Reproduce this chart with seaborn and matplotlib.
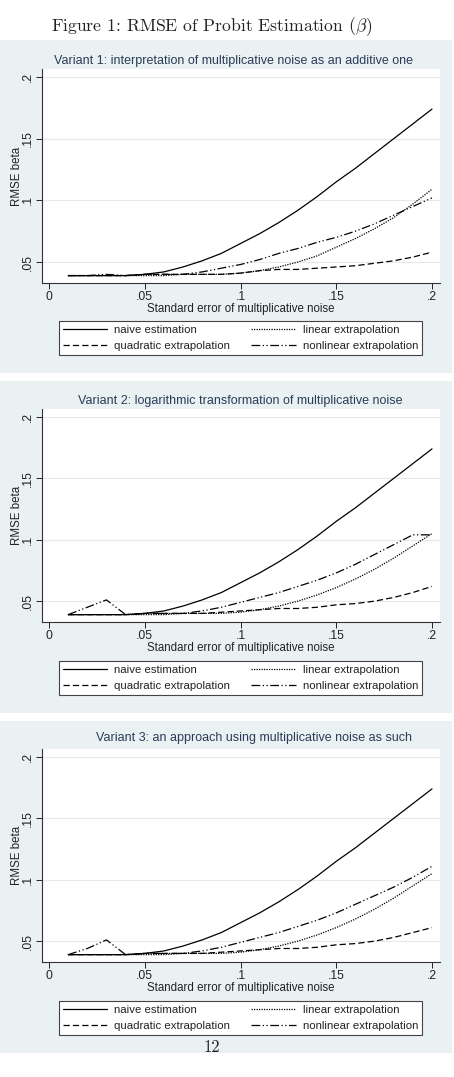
import matplotlib
matplotlib.use("Agg")
import matplotlib.pyplot as plt
import seaborn as sns
from matplotlib.patches import Rectangle

# Data
SE = [0.01, 0.02, 0.03, 0.04, 0.05, 0.06, 0.07, 0.08, 0.09, 0.10,
      0.11, 0.12, 0.13, 0.14, 0.15, 0.16, 0.17, 0.18, 0.19, 0.20]

naive = [0.039, 0.039, 0.039, 0.039, 0.040, 0.042, 0.046, 0.051, 0.057, 0.065,
         0.073, 0.082, 0.092, 0.103, 0.115, 0.126, 0.138, 0.150, 0.162, 0.174]

# Variant 1
v1_linear = [0.039, 0.039, 0.039, 0.039, 0.039, 0.039, 0.040, 0.040, 0.040, 0.041,
             0.043, 0.046, 0.050, 0.055, 0.062, 0.069, 0.077, 0.086, 0.097, 0.109]
v1_quadratic = [0.039, 0.039, 0.039, 0.039, 0.040, 0.040, 0.040, 0.040, 0.040, 0.041,
                0.043, 0.044, 0.044, 0.045, 0.046, 0.047, 0.049, 0.051, 0.054, 0.058]
v1_nonlinear = [0.039, 0.039, 0.040, 0.039, 0.040, 0.040, 0.040, 0.042, 0.045, 0.048,
                0.052, 0.057, 0.061, 0.066, 0.070, 0.075, 0.081, 0.088, 0.095, 0.102]

# Variant 2
v2_linear = [0.039, 0.039, 0.039, 0.039, 0.039, 0.039, 0.040, 0.040, 0.040, 0.041,
             0.043, 0.046, 0.050, 0.055, 0.061, 0.068, 0.076, 0.085, 0.095, 0.105]
v2_quadratic = [0.039, 0.039, 0.039, 0.039, 0.040, 0.040, 0.040, 0.040, 0.041, 0.042,
                0.043, 0.044, 0.044, 0.045, 0.047, 0.048, 0.050, 0.053, 0.057, 0.062]
v2_nonlinear = [0.039, 0.045, 0.051, 0.039, 0.040, 0.040, 0.040, 0.042, 0.045, 0.049,
                0.053, 0.057, 0.062, 0.067, 0.073, 0.080, 0.088, 0.096, 0.104, 0.104]

# Variant 3
v3_linear = [0.039, 0.039, 0.039, 0.039, 0.039, 0.039, 0.040, 0.040, 0.040, 0.041,
             0.043, 0.046, 0.050, 0.055, 0.061, 0.068, 0.076, 0.085, 0.095, 0.105]
v3_quadratic = [0.039, 0.039, 0.039, 0.039, 0.040, 0.040, 0.040, 0.040, 0.041, 0.042,
                0.043, 0.044, 0.044, 0.045, 0.047, 0.048, 0.050, 0.053, 0.057, 0.061]
v3_nonlinear = [0.039, 0.044, 0.051, 0.039, 0.040, 0.040, 0.040, 0.042, 0.045, 0.049,
                0.053, 0.057, 0.062, 0.067, 0.073, 0.080, 0.087, 0.094, 0.102, 0.111]

TITLES = [
    "Variant 1: interpretation of multiplicative noise as an additive one",
    "Variant 2: logarithmic transformation of multiplicative noise",
    "Variant 3: an approach using multiplicative noise as such",
]
X_TICKS = [0, 0.05, 0.1, 0.15, 0.2]
X_TICKLABELS = ["0", ".05", ".1", ".15", ".2"]
Y_TICKS = [0.05, 0.1, 0.15, 0.2]
Y_TICKLABELS = [".05", ".1", ".15", ".2"]

SERIES = [
    ("naive estimation", "-"),
    ("linear extrapolation", (0, (1, 1))),
    ("quadratic extrapolation", (0, (5, 2.5))),
    ("nonlinear extrapolation", (0, (7, 2, 1, 2, 1, 2))),
]
PANELS = [
    [naive, v1_linear, v1_quadratic, v1_nonlinear],
    [naive, v2_linear, v2_quadratic, v2_nonlinear],
    [naive, v3_linear, v3_quadratic, v3_nonlinear],
]

sns.set_theme(style="white")
plt.rcParams["font.family"] = ["Liberation Sans", "DejaVu Sans"]
plt.rcParams["mathtext.fontset"] = "cm"

W, H = 454, 1077
fig = plt.figure(figsize=(W / 100, H / 100), dpi=100)
fig.patch.set_facecolor("white")


def fx(px):
    return px / W


def fy(px):
    return 1 - px / H


BG = "#eaf1f3"
TITLE_COLOR = "#2b3b58"
TXT = "#222222"
FS = 8.8
LEG_FS = 8.2

# pixel layout for each panel: background top/bottom, axes top/bottom, title y/x, legend top/bottom
layout = [
    dict(bg=(40, 373), ax=(69, 283), title=(61, 234), leg=(320, 356)),
    dict(bg=(381, 713), ax=(409, 622), title=(401, 240), leg=(659, 697)),
    dict(bg=(721, 1053), ax=(749, 962), title=(738, 254), leg=(999, 1037)),
]

fig.text(fx(212), fy(27), r"Figure 1: RMSE of Probit Estimation ($\beta$)",
         family="cmr10", fontsize=12.7, ha="center", va="center", color=TXT)

for i, lay in enumerate(layout):
    b0, b1 = lay["bg"]
    fig.patches.append(Rectangle((0, fy(b1)), fx(452), (b1 - b0) / H,
                                 transform=fig.transFigure, facecolor=BG,
                                 edgecolor="none", zorder=-5))
    a0, a1 = lay["ax"]
    ax = fig.add_axes([fx(42), fy(a1), fx(440) - fx(42), (a1 - a0) / H])
    ax.set_facecolor("white")

    for (name, ls), vals in zip(SERIES, PANELS[i]):
        sns.lineplot(x=SE, y=vals, ax=ax, color="black", lw=0.9,
                     linestyle=ls, label=name, legend=False)

    ax.set_xlim(-0.00366, 0.20418)
    ax.set_ylim(0.033, 0.2065)
    ax.set_xticks(X_TICKS)
    ax.set_xticklabels(X_TICKLABELS)
    ax.set_yticks(Y_TICKS)
    ax.set_yticklabels(Y_TICKLABELS, rotation=90, va="center")
    ax.tick_params(axis="both", direction="out", length=4, width=0.7,
                   colors=TXT, labelsize=FS, pad=2, left=True, bottom=True)
    ax.grid(axis="y", color="#e8e8e8", lw=0.8)
    ax.set_axisbelow(True)
    for side in ["top", "right"]:
        ax.spines[side].set_visible(False)
    for side in ["left", "bottom"]:
        ax.spines[side].set_color("#333333")
        ax.spines[side].set_linewidth(0.8)
    ax.set_xlabel("Standard error of multiplicative noise", fontsize=8.3,
                  color=TXT, labelpad=-0.5)
    ax.set_ylabel("RMSE beta", fontsize=8.3, color=TXT, labelpad=-0.8)

    ty, tx = lay["title"]
    fig.text(fx(tx), fy(ty), TITLES[i], fontsize=9.0, color=TITLE_COLOR,
             ha="center", va="center")

    l0, l1 = lay["leg"]
    handles, labels = ax.get_legend_handles_labels()
    order = [0, 2, 1, 3]
    leg = ax.legend([handles[k] for k in order], [labels[k] for k in order],
                    ncol=2, loc="center",
                    bbox_to_anchor=(fx(59), fy(l1), fx(422) - fx(59), (l1 - l0) / H),
                    bbox_transform=fig.transFigure, mode="expand",
                    fontsize=LEG_FS, handlelength=3.9, handletextpad=0.6,
                    labelspacing=0.55, borderpad=0.35, columnspacing=1.0,
                    fancybox=False, frameon=True, borderaxespad=0)
    leg.get_frame().set_edgecolor("#444444")
    leg.get_frame().set_linewidth(0.8)
    leg.get_frame().set_facecolor("white")
    leg.get_frame().set_alpha(1)
    for t in leg.get_texts():
        t.set_color(TXT)

fig.text(fx(212), fy(1047), "12", family="cmr10", fontsize=12,
         ha="center", va="center", color=TXT)

fig.savefig("out.png", dpi=100)
